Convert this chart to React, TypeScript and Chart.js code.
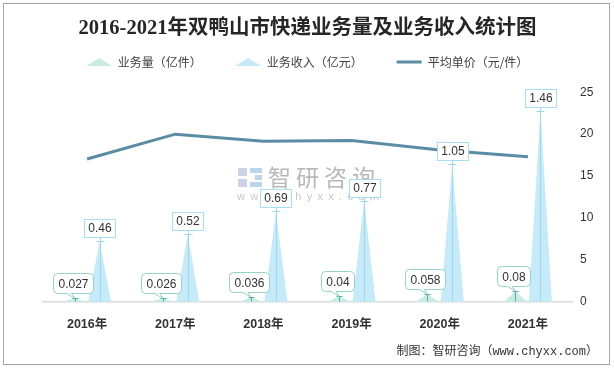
import React, { useEffect, useRef } from 'react';
import { Chart, registerables } from 'chart.js';

Chart.register(...registerables);

// ---- data ----
const categories = ['2016年', '2017年', '2018年', '2019年', '2020年', '2021年'];
const volume = [0.027, 0.026, 0.036, 0.04, 0.058, 0.08]; // 业务量（亿件）
const revenue = [0.46, 0.52, 0.69, 0.77, 1.05, 1.46]; // 业务收入（亿元）
const avgPrice = [17.04, 20.0, 19.17, 19.25, 18.1, 17.3]; // 平均单价（元/件）
const rightTicks = [0, 5, 10, 15, 20, 25];
const leftAxisMax = 1.6;

const TITLE = '2016-2021年双鸭山市快递业务量及业务收入统计图';
const SERIES = ['业务量（亿件）', '业务收入（亿元）', '平均单价（元/件）'];
const FOOTER = '制图：智研咨询（www.chyxx.com）';

// ---- styles ----
const VOL_FILL = '#c9ebe5';
const VOL_BORDER = '#95d3ca';
const VOL_LEADER = '#4fb2a4';
const REV_FILL = '#c5eaf8';
const REV_LINE = '#9cd9ef';
const REV_BORDER = '#a8def2';
const LINE_COLOR = '#5a8da3';
const SANS = "'Liberation Sans', 'Noto Sans CJK SC', sans-serif";
const CJK = "'Noto Sans CJK SC', 'Liberation Sans', sans-serif";

function triImg(color: string) {
  const c = document.createElement('canvas');
  c.width = 26;
  c.height = 8;
  const g = c.getContext('2d')!;
  g.fillStyle = color;
  g.beginPath();
  g.moveTo(0, 8);
  g.lineTo(13, 0);
  g.lineTo(26, 8);
  g.closePath();
  g.fill();
  return c;
}

const decor = {
  id: 'decor',
  beforeDatasetsDraw(chart: any) {
    const ctx = chart.ctx as CanvasRenderingContext2D;
    // watermark
    ctx.save();
    ctx.fillStyle = '#cdd3e6';
    ctx.fillRect(238, 168, 9, 8);
    ctx.fillRect(238, 179, 9, 8);
    ctx.fillStyle = '#b8d7ee';
    ctx.fillRect(250, 168, 12, 5);
    ctx.fillRect(255, 175, 7, 5);
    ctx.fillRect(250, 182, 12, 5);
    ctx.fillStyle = 'rgba(160,160,160,0.75)';
    ctx.font = "23px 'Noto Sans CJK SC'";
    ctx.textBaseline = 'middle';
    (ctx as any).letterSpacing = '5px';
    ctx.fillText('智研咨询', 268, 177);
    ctx.fillStyle = 'rgba(185,185,185,0.8)';
    ctx.font = "11px 'Liberation Sans'";
    (ctx as any).letterSpacing = '5.3px';
    ctx.fillText('www.chyxx.com', 237, 197);
    ctx.restore();

    // triangles
    const fills = [VOL_FILL, REV_FILL];
    [0, 1].forEach((di) => {
      const meta = chart.getDatasetMeta(di);
      meta.data.forEach((el: any) => {
        const { x, y, base, width } = el.getProps(['x', 'y', 'base', 'width'], true);
        ctx.save();
        ctx.fillStyle = fills[di];
        ctx.beginPath();
        ctx.moveTo(x - width / 2, base);
        ctx.lineTo(x, y);
        ctx.lineTo(x + width / 2, base);
        ctx.closePath();
        ctx.fill();
        ctx.restore();
      });
    });
  },
  afterDatasetsDraw(chart: any) {
    const ctx = chart.ctx as CanvasRenderingContext2D;
    ctx.save();
    ctx.font = `12px ${SANS}`;
    ctx.textAlign = 'center';
    ctx.textBaseline = 'middle';

    // 业务收入 labels
    const m1 = chart.getDatasetMeta(1);
    m1.data.forEach((el: any, i: number) => {
      const { x, y, base } = el.getProps(['x', 'y', 'base'], true);
      const txt = String(revenue[i]);
      const tw = ctx.measureText(txt).width;
      const bw = Math.round(tw + 8);
      const bh = 18;
      const bottom = Math.round(y - 4);
      const left = Math.round(x - bw / 2);
      const lx = Math.round(x) + 0.5;
      ctx.strokeStyle = REV_LINE;
      ctx.lineWidth = 1;
      ctx.beginPath();
      ctx.moveTo(lx, bottom);
      ctx.lineTo(lx, base);
      ctx.moveTo(lx - 4, Math.round(y) + 0.5);
      ctx.lineTo(lx + 4, Math.round(y) + 0.5);
      ctx.stroke();
      ctx.fillStyle = '#ffffff';
      ctx.fillRect(left + 0.5, bottom - bh + 0.5, bw, bh);
      ctx.strokeStyle = REV_BORDER;
      ctx.strokeRect(left + 0.5, bottom - bh + 0.5, bw, bh);
      ctx.fillStyle = '#333333';
      ctx.fillText(txt, left + 0.5 + bw / 2, bottom - bh / 2 + 1);
    });

    // 业务量 callouts
    const m0 = chart.getDatasetMeta(0);
    m0.data.forEach((el: any, i: number) => {
      const { x, y, base } = el.getProps(['x', 'y', 'base'], true);
      const txt = String(volume[i]);
      const tw = ctx.measureText(txt).width;
      const bw = Math.round(tw + 10);
      const bh = 20;
      const bottom = Math.round(y - 5) + 0.5;
      const cx = x - 2;
      const left = Math.round(cx - bw / 2) + 0.5;
      const top = bottom - bh;
      const r = 4;
      const w1 = x - 8;
      const w2 = x - 3;
      // leader T
      ctx.strokeStyle = VOL_LEADER;
      ctx.lineWidth = 1;
      const lx = Math.round(x) + 0.5;
      ctx.beginPath();
      ctx.moveTo(lx, Math.round(y));
      ctx.lineTo(lx, base);
      ctx.moveTo(lx - 3, Math.round(y) + 0.5);
      ctx.lineTo(lx + 3, Math.round(y) + 0.5);
      ctx.stroke();
      // callout box
      ctx.beginPath();
      ctx.moveTo(left + r, top);
      ctx.lineTo(left + bw - r, top);
      ctx.arcTo(left + bw, top, left + bw, top + r, r);
      ctx.lineTo(left + bw, bottom - r);
      ctx.arcTo(left + bw, bottom, left + bw - r, bottom, r);
      ctx.lineTo(w2, bottom);
      ctx.lineTo(x, y);
      ctx.lineTo(w1, bottom);
      ctx.lineTo(left + r, bottom);
      ctx.arcTo(left, bottom, left, bottom - r, r);
      ctx.lineTo(left, top + r);
      ctx.arcTo(left, top, left + r, top, r);
      ctx.closePath();
      ctx.fillStyle = '#ffffff';
      ctx.fill();
      ctx.strokeStyle = VOL_BORDER;
      ctx.stroke();
      ctx.fillStyle = '#333333';
      ctx.fillText(txt, left + bw / 2, top + bh / 2 + 1);
    });
    ctx.restore();
  },
  afterDraw(chart: any) {
    const ctx = chart.ctx as CanvasRenderingContext2D;
    ctx.save();
    ctx.strokeStyle = '#a6a6a6';
    ctx.lineWidth = 1;
    ctx.strokeRect(3.5, 3.5, 606, 361);
    ctx.font = `12px 'Liberation Mono', 'Noto Sans CJK SC', monospace`;
    ctx.fillStyle = '#333333';
    ctx.textAlign = 'right';
    ctx.textBaseline = 'middle';
    ctx.fillText(FOOTER, 598, 352);
    ctx.restore();
  },
};

export default function App() {
  const ref = useRef<HTMLCanvasElement>(null);

  useEffect(() => {
    document.body.style.margin = '0';
    const imgs = [triImg(VOL_FILL), triImg(REV_FILL)];
    const chart = new Chart(ref.current!, {
      type: 'bar',
      data: {
        labels: categories,
        datasets: [
          {
            type: 'bar',
            label: SERIES[0],
            data: volume,
            yAxisID: 'y',
            backgroundColor: 'rgba(0,0,0,0)',
            borderWidth: 0,
            categoryPercentage: 0.567,
            barPercentage: 0.92,
          },
          {
            type: 'bar',
            label: SERIES[1],
            data: revenue,
            yAxisID: 'y',
            backgroundColor: 'rgba(0,0,0,0)',
            borderWidth: 0,
            categoryPercentage: 0.567,
            barPercentage: 0.92,
          },
          {
            type: 'line',
            label: SERIES[2],
            data: avgPrice,
            yAxisID: 'y1',
            borderColor: LINE_COLOR,
            backgroundColor: LINE_COLOR,
            borderWidth: 3,
            pointRadius: 0,
            tension: 0,
          } as any,
        ],
      },
      options: {
        responsive: false,
        animation: false,
        events: [],
        layout: { padding: { left: 0, right: 0, top: 0, bottom: 38.3 } },
        plugins: {
          tooltip: { enabled: false },
          title: {
            display: true,
            text: TITLE,
            color: '#262626',
            font: { family: "'Liberation Serif', 'Noto Sans CJK SC', serif", size: 20.5, weight: 'bold' },
            padding: { top: 16, bottom: -18.6 },
          },
          legend: {
            display: true,
            position: 'top',
            labels: {
              usePointStyle: true,
              pointStyleWidth: 25,
              padding: 34,
              color: '#404040',
              font: { family: CJK, size: 12 },
              generateLabels: (c: any) => {
                const items = (Chart.defaults.plugins.legend.labels as any).generateLabels(c);
                items.forEach((it: any) => {
                  const di = it.datasetIndex;
                  if (di < 2) {
                    it.pointStyle = imgs[di];
                  } else {
                    it.pointStyle = 'line';
                    it.strokeStyle = LINE_COLOR;
                    it.lineWidth = 3;
                  }
                });
                items.sort((a: any, b: any) => a.datasetIndex - b.datasetIndex);
                return items;
              },
            },
          },
          subtitle: {
            display: true,
            text: ' ',
            position: 'top',
            weight: 500,
            font: { size: 1, lineHeight: 1 },
            padding: { top: 0, bottom: 13.3 },
          } as any,
        },
        scales: {
          x: {
            type: 'category',
            offset: true,
            grid: { display: false, drawTicks: false },
            border: { display: true, color: '#d9d9d9', width: 1.5 },
            ticks: {
              color: '#333333',
              font: { family: SANS, size: 12.5, weight: 'bold' },
              padding: 15,
              maxRotation: 0,
              autoSkip: false,
            },
            afterFit: (s: any) => {
              s.height = 30;
            },
          },
          y: {
            type: 'linear',
            position: 'left',
            display: true,
            min: 0,
            max: leftAxisMax,
            grid: { display: false, drawTicks: false },
            border: { display: false },
            ticks: { display: false },
            afterFit: (s: any) => {
              s.width = 43;
            },
          },
          y1: {
            type: 'linear',
            position: 'right',
            min: rightTicks[0],
            max: rightTicks[rightTicks.length - 1],
            grid: { display: false, drawTicks: false },
            border: { display: false },
            ticks: {
              stepSize: rightTicks[1] - rightTicks[0],
              padding: 8,
              color: '#333333',
              font: { family: SANS, size: 12 },
            },
            afterFit: (s: any) => {
              s.width = 43;
            },
          },
        },
      } as any,
      plugins: [decor],
    });
    return () => chart.destroy();
  }, []);

  return (
    <div style={{ width: 615, height: 370 }}>
      <canvas ref={ref} width={615} height={370} style={{ display: 'block', width: 615, height: 370 }} />
    </div>
  );
}
